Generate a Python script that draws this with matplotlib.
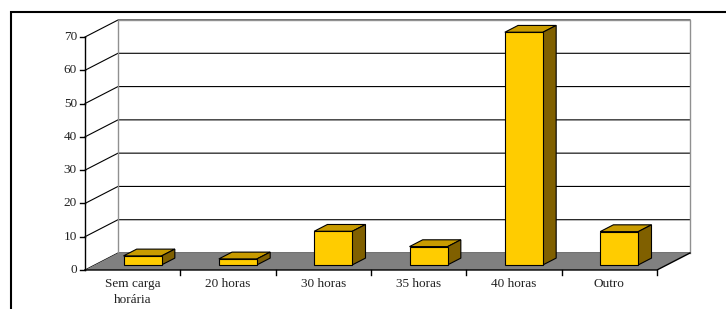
import matplotlib.pyplot as plt
from matplotlib.patches import Polygon, Rectangle

# data (percent)
categories = ['Sem carga\nhorária', '20 horas', '30 horas', '35 horas', '40 horas', 'Outro']
values = [2.7, 1.8, 10.1, 5.5, 69.9, 10.0]
yticks = [0, 10, 20, 30, 40, 50, 60, 70]

plt.rcParams['font.family'] = ['Liberation Serif', 'DejaVu Serif']

W, H = 726, 309
fig = plt.figure(figsize=(W / 100, H / 100), dpi=100)
ax = fig.add_axes([85 / W, 39 / H, 572 / W, 233 / H])
n = len(categories)
ax.set_xlim(0, n)
ax.set_ylim(0, 70)
ax.axis('off')

# depth of the 3D box, in data units
DX = 33 / 95.33
DY = 17 / 3.33
ymax = yticks[-1]

# back wall + left wall
ax.add_patch(Polygon([(DX, DY), (n + DX, DY), (n + DX, ymax + DY), (DX, ymax + DY)],
                     closed=True, facecolor='white', edgecolor='none', clip_on=False))
for v in yticks:
    ax.plot([0, DX, n + DX], [v, v + DY, v + DY], color='black', lw=0.8,
            clip_on=False, zorder=2)
ax.plot([DX, DX, n + DX, n + DX], [DY, ymax + DY, ymax + DY, DY],
        color='#909090', lw=1.0, clip_on=False, zorder=2)

# floor
ax.add_patch(Polygon([(0, 0), (n, 0), (n + DX, DY), (DX, DY)], closed=True,
                     facecolor='#808080', edgecolor='none', clip_on=False, zorder=3))
ax.plot([0, n, n + DX], [0, 0, DY], color='black', lw=1.0, clip_on=False, zorder=4)

# axis lines and ticks
ax.plot([0, 0], [0, ymax], color='black', lw=1.0, clip_on=False, zorder=4)
tick_x = 5 * 6 / 572
tick_y = 5 * 70 / 233
for v in yticks:
    ax.plot([-tick_x, 0], [v, v], color='black', lw=1.0, clip_on=False, zorder=4)
    ax.text(-8 * 6 / 572, v, str(v), ha='right', va='center', fontsize=9.5,
            color='#222222')
for i in range(1, n + 1):
    ax.plot([i, i], [0, -tick_y], color='black', lw=1.0, clip_on=False, zorder=4)
for i, lab in enumerate(categories):
    ax.text(i + 0.5, -8 * 70 / 233, lab, ha='center', va='top', fontsize=9.5,
            linespacing=1.4, color='#222222')

# bars
z0, z1 = 0.3, 0.7
bw = 0.4
xs = [i + 0.5 + z0 * DX for i in range(n)]
ax.bar(xs, values, width=bw, bottom=z0 * DY, color='#FFCC00', edgecolor='black',
       linewidth=0.8, zorder=6, clip_on=False)
dx, dy = (z1 - z0) * DX, (z1 - z0) * DY
for x, v in zip(xs, values):
    l, r = x - bw / 2, x + bw / 2
    b, t = z0 * DY, z0 * DY + v
    ax.add_patch(Polygon([(l, t), (r, t), (r + dx, t + dy), (l + dx, t + dy)], closed=True,
                         facecolor='#C89B00', edgecolor='black', lw=0.8, zorder=5,
                         clip_on=False))
    ax.add_patch(Polygon([(r, b), (r + dx, b + dy), (r + dx, t + dy), (r, t)], closed=True,
                         facecolor='#806000', edgecolor='black', lw=0.8, zorder=5,
                         clip_on=False))

# outer frame
fig.add_artist(Rectangle((11 / W, -0.1), 1.0, 1 - 12 / H + 0.1, transform=fig.transFigure,
                         fill=False, edgecolor='black', lw=1.5))

fig.savefig('out.png', dpi=100)
